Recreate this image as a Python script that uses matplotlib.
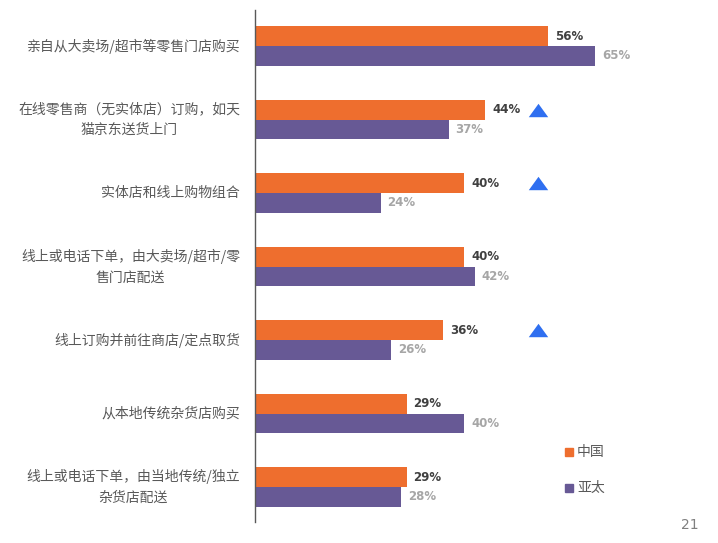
import matplotlib
matplotlib.use("Agg")
import matplotlib.pyplot as plt
import numpy as np

plt.rcParams['font.family'] = ['Noto Sans CJK SC', 'DejaVu Sans']

categories = [
    "亲自从大卖场/超市等零售门店购买",
    "在线零售商（无实体店）订购，如天\n猫京东送货上门",
    "实体店和线上购物组合",
    "线上或电话下单，由大卖场/超市/零\n售门店配送",
    "线上订购并前往商店/定点取货",
    "从本地传统杂货店购买",
    "线上或电话下单，由当地传统/独立\n杂货店配送",
]
china = [56, 44, 40, 40, 36, 29, 29]
apac = [65, 37, 24, 42, 26, 40, 28]
up_flags = [False, True, True, False, True, False, False]
series_names = ["中国", "亚太"]

c_orange = "#EE6E2E"
c_purple = "#675995"

W, H = 718, 543
fig = plt.figure(figsize=(W/100, H/100), dpi=100)
ax_left = 255 / W
ax_bottom = (H - 522) / H
ax_top = (H - 10) / H
ax = fig.add_axes([ax_left, ax_bottom, 1 - ax_left, ax_top - ax_bottom])

y = np.arange(len(categories))
bh = 0.27
ax.barh(y - bh/2, china, height=bh, color=c_orange)
ax.barh(y + bh/2, apac, height=bh, color=c_purple)

ax.set_xlim(0, (W - 255) / 5.23)
ax.set_ylim(6.476, -0.49)

tri = [(-1, -0.69), (1, -0.69), (0, 0.69), (-1, -0.69)]

for i in range(len(categories)):
    ax.annotate(f"{china[i]}%", (china[i], i - bh/2), xytext=(5, 0), textcoords="offset points",
                va="center", ha="left", fontsize=8.5, fontweight="bold", color="#404040",
                family=["DejaVu Sans"])
    ax.annotate(f"{apac[i]}%", (apac[i], i + bh/2), xytext=(5, 0), textcoords="offset points",
                va="center", ha="left", fontsize=8.5, fontweight="bold", color="#A6A6A6",
                family=["DejaVu Sans"])
    if up_flags[i]:
        ax.plot([(538 - 255) / 5.23], [i - bh/2], marker=tri, markersize=14,
                color="#2F6FF0", markeredgewidth=0, clip_on=False)
    ax.text(-15 / 5.23, i, categories[i], ha="right", va="center", multialignment="center",
            fontsize=10, color="#595959", linespacing=1.6)

for s in ["top", "right", "bottom"]:
    ax.spines[s].set_visible(False)
ax.spines["left"].set_color("#595959")
ax.spines["left"].set_linewidth(1.0)
ax.set_xticks([])
ax.set_yticks([])

# legend
for name, col, yy in [(series_names[0], c_orange, 452), (series_names[1], c_purple, 488)]:
    fig.patches.append(plt.Rectangle((565 / W, (H - yy - 4) / H), 8 / W, 8 / H,
                                     transform=fig.transFigure, color=col, figure=fig))
    fig.text(577 / W, (H - yy) / H, name, ha="left", va="center", fontsize=10, color="#595959")

fig.text(690 / W, (H - 525) / H, "21", ha="center", va="center", fontsize=10, color="#7F7F7F",
         family=["DejaVu Sans"])

fig.savefig("out.png", dpi=100)
